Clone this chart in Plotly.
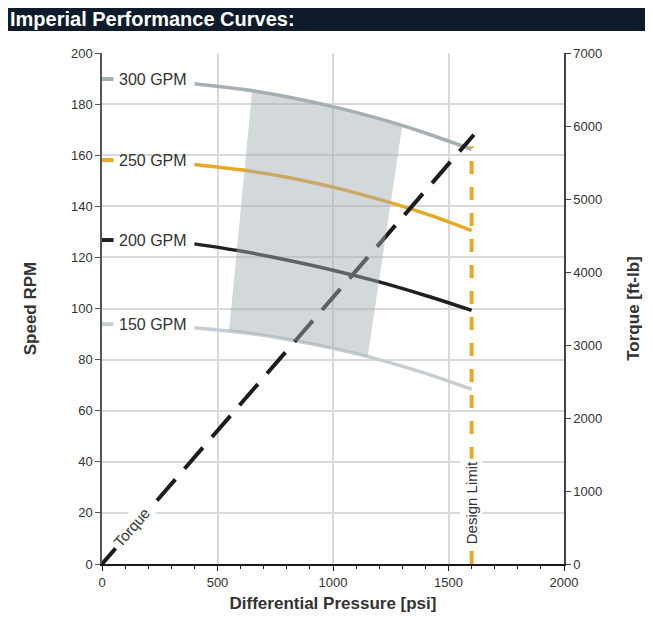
import plotly.graph_objects as go

# ---- data ----
psi = [400, 600, 800, 1000, 1200, 1400, 1600]
rpm_300 = [188, 185.9, 182.9, 179, 174.3, 168.7, 162.3]
rpm_250 = [156.4, 154.3, 151.4, 147.5, 142.7, 137.1, 130.5]
rpm_200 = [125.3, 122.5, 119, 115, 110.4, 105.1, 99.3]
rpm_150 = [92.5, 90.7, 88, 84.4, 80, 74.6, 68.4]
flow_labels = ["300 GPM", "250 GPM", "200 GPM", "150 GPM"]
label_rpm = [189.8, 158.1, 126.8, 93.9]
flow_colors = ["#a6afb4", "#e9a823", "#231f20", "#c6cdd1"]

torque_psi = [0, 1610]
torque_ftlb = [0, 5880]

design_limit_psi = 1600
design_limit_rpm = [0, 163.5]

# operating envelope (psi, rpm)
shade_psi = [650, 700, 800, 900, 1000, 1100, 1200, 1300, 1150, 1100, 1000, 900, 800, 700, 550, 650]
shade_rpm = [185.2, 184.6, 182.9, 181.1, 179, 176.8, 174.3, 171.6, 81.1, 82.5, 84.4, 86.3, 88, 89.5, 91.2, 185.2]

RPM_TO_TORQUE = 7000 / 200  # secondary axis scale ratio

FONT = "Liberation Sans, Arial, sans-serif"

# page offset of the figure (browser body margin)
OFF = 8
W, H = 653 - OFF, 634 - OFF
L, R, T, B = 102 - OFF, 89, 53 - OFF, 70
PW, PH = W - L - R, H - T - B

fig = go.Figure()

for ys, col, ly in zip([rpm_300, rpm_250, rpm_200, rpm_150], flow_colors, label_rpm):
    fig.add_trace(go.Scatter(x=psi, y=ys, mode="lines", line=dict(color=col, width=3.5, shape="spline", smoothing=0.8),
                             hoverinfo="skip", showlegend=False))
    fig.add_trace(go.Scatter(x=[0, 50], y=[ly, ly], mode="lines", line=dict(color=col, width=4),
                             hoverinfo="skip", showlegend=False, cliponaxis=False))

fig.add_trace(go.Scatter(x=[design_limit_psi, design_limit_psi], y=design_limit_rpm, mode="lines",
                         line=dict(color="#e9a823", width=4, dash="13px,13px"), showlegend=False))

fig.add_trace(go.Scatter(x=torque_psi, y=torque_ftlb, yaxis="y2", mode="lines",
                         line=dict(color="#1c1c1c", width=4, dash="28px,14px"), showlegend=False))

fig.add_trace(go.Scatter(x=shade_psi, y=[v * RPM_TO_TORQUE for v in shade_rpm], yaxis="y2", mode="lines",
                         fill="toself", fillcolor="rgba(163,174,180,0.48)", line=dict(width=0),
                         showlegend=False, hoverinfo="skip"))

# curve labels
for lab, ly in zip(flow_labels, label_rpm):
    fig.add_annotation(x=68, y=ly, xref="x", yref="y", text=lab, showarrow=False, xanchor="left",
                       yanchor="middle", borderpad=0,
                       font=dict(family=FONT, size=16, color="#333333"))

fig.add_annotation(x=128, y=14.2, xref="x", yref="y", text="Torque", showarrow=False, textangle=-49,
                   bgcolor="white", font=dict(family=FONT, size=15, color="#333333"), borderpad=3)
fig.add_annotation(x=design_limit_psi, y=24, xref="x", yref="y", text="Design Limit", showarrow=False,
                   textangle=-90, bgcolor="white", font=dict(family=FONT, size=15, color="#333333"), borderpad=2)

# title bar (page pixels -> paper coords)
def px(xp):
    return (xp - OFF - L) / PW

def py(yp):
    return (H - B - (yp - OFF)) / PH

fig.add_shape(type="rect", xref="paper", yref="paper", x0=px(0), x1=px(653),
              y0=py(31), y1=py(7), fillcolor="#0e1b2b", line=dict(width=0), layer="above")
fig.add_annotation(xref="paper", yref="paper", x=px(8), y=py(19), xanchor="left",
                   yanchor="middle", text="<b>Imperial Performance Curves:</b>", showarrow=False,
                   font=dict(family=FONT, size=20, color="white"))

fig.update_layout(
    width=W, height=H,
    margin=dict(l=L, r=R, t=T, b=B),
    paper_bgcolor="white", plot_bgcolor="white",
    font=dict(family=FONT, size=13, color="#333333"),
    xaxis=dict(range=[0, 2000], tickvals=[0, 500, 1000, 1500, 2000], showgrid=True, gridcolor="#d9d9d9",
               gridwidth=1.5, zeroline=False, showline=True, linecolor="#1a1a1a", linewidth=2,
               ticks="outside", ticklen=5, tickcolor="#1a1a1a",
               minor=dict(dtick=100, ticks="outside", ticklen=3, tickcolor="#1a1a1a", showgrid=False),
               title=dict(text="<b>Differential Pressure [psi]</b>", font=dict(size=17, color="#333333"), standoff=9)),
    yaxis=dict(range=[0, 200], dtick=20, showgrid=True, gridcolor="#d9d9d9", gridwidth=1.5, zeroline=False,
               showline=True, linecolor="#555555", linewidth=1.5, ticks="outside", ticklen=5, tickcolor="#555555",
               title=dict(text="<b>Speed RPM</b>", font=dict(size=17, color="#333333"), standoff=30)),
    yaxis2=dict(range=[0, 7000], dtick=1000, overlaying="y", side="right", showgrid=False, zeroline=False,
                showline=True, linecolor="#444444", linewidth=1.5, ticks="outside", ticklen=5, tickcolor="#444444",
                title=dict(text="<b>Torque [ft-lb]</b>", font=dict(size=17, color="#333333"), standoff=26)),
)

fig.write_html("out.html")
